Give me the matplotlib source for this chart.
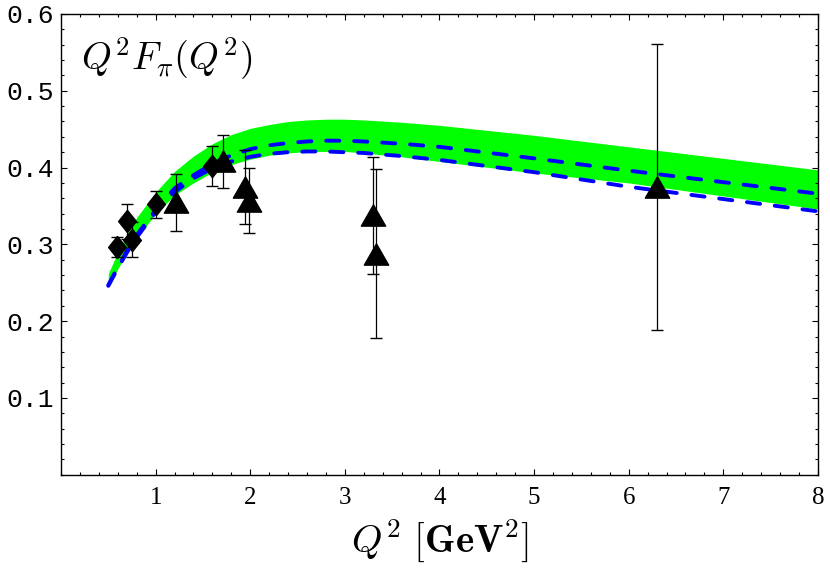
import matplotlib
matplotlib.use("Agg")
import matplotlib.pyplot as plt
from matplotlib.ticker import MultipleLocator, FixedLocator

# theory band (green)
band_q2 = [0.5, 0.6, 0.7, 0.8, 1.0, 1.2, 1.4, 1.6, 1.8, 2.0, 2.2, 2.4, 2.6, 2.8, 3.0,
           3.2, 3.6, 4.0, 5.0, 6.0, 7.0, 8.0]
band_upper = [0.262, 0.290, 0.314, 0.335, 0.368, 0.395, 0.415, 0.431, 0.443, 0.451,
              0.456, 0.460, 0.462, 0.463, 0.463, 0.462, 0.459, 0.455, 0.442, 0.427,
              0.412, 0.397]
band_lower = [0.245, 0.268, 0.290, 0.308, 0.340, 0.364, 0.380, 0.394, 0.404, 0.411,
              0.416, 0.419, 0.421, 0.421, 0.421, 0.419, 0.414, 0.408, 0.393, 0.380,
              0.363, 0.346]

# the two blue dashed curves
dash_upper = [0.247, 0.270, 0.292, 0.312, 0.345, 0.373, 0.390, 0.405, 0.416, 0.424,
              0.429, 0.432, 0.434, 0.435, 0.435, 0.434, 0.431, 0.427, 0.412, 0.396,
              0.381, 0.366]
dash_lower = [0.246, 0.269, 0.290, 0.309, 0.342, 0.368, 0.386, 0.399, 0.408, 0.414,
              0.418, 0.420, 0.421, 0.421, 0.420, 0.419, 0.415, 0.410, 0.394, 0.375,
              0.359, 0.343]

# data set 1 (diamonds)
diam_q2 = [0.595, 0.70, 0.747, 1.00, 1.60]
diam_f = [0.297, 0.330, 0.306, 0.352, 0.402]
diam_err = [0.013, 0.023, 0.023, 0.018, 0.026]

# data set 2 (triangles)
tri_q2 = [1.22, 1.71, 1.94, 1.99, 3.30, 3.33, 6.30]
tri_f = [0.355, 0.408, 0.375, 0.357, 0.338, 0.288, 0.375]
tri_err = [0.037, 0.034, 0.048, 0.042, 0.076, 0.110, 0.186]

# tick labels
x_ticks = [1, 2, 3, 4, 5, 6, 7, 8]
y_ticks = [0.1, 0.2, 0.3, 0.4, 0.5, 0.6]

plt.rcParams['mathtext.fontset'] = 'cm'

fig = plt.figure(figsize=(8.3, 5.75), dpi=100)
ax = fig.add_axes([0.0735, 0.1743, 0.912, 0.8014])

# green band
ax.fill_between(band_q2, band_lower, band_upper, color='#00ff00', lw=0, zorder=1)

# dashed curves
for curve in [dash_upper, dash_lower]:
    ax.plot(band_q2, curve, color='#0000ff', lw=2.8, dashes=(3.4, 3.8),
            dash_capstyle='round', zorder=2)

# markers shaped like the original ones
diamond = [(0, 1), (0.8, 0), (0, -1), (-0.8, 0), (0, 1)]
triangle = [(0, 0.875), (1, -0.875), (-1, -0.875), (0, 0.875)]

ax.errorbar(diam_q2, diam_f, yerr=diam_err, fmt='none', ecolor='black',
            elinewidth=0.9, capsize=4.3, capthick=1.0, zorder=3)
ax.errorbar(tri_q2, tri_f, yerr=tri_err, fmt='none', ecolor='black',
            elinewidth=0.9, capsize=4.3, capthick=1.0, zorder=3)
ax.plot(diam_q2, diam_f, ls='none', marker=diamond, ms=16, color='black', zorder=4)
ax.plot(tri_q2, tri_f, ls='none', marker=triangle, ms=17.5, color='black', zorder=4)

# axes
ax.set_xlim(0, 8)
ax.set_ylim(0, 0.6)
ax.xaxis.set_major_locator(FixedLocator(x_ticks))
ax.yaxis.set_major_locator(FixedLocator(y_ticks))
ax.xaxis.set_minor_locator(MultipleLocator(0.2))
ax.yaxis.set_minor_locator(MultipleLocator(0.02))
ax.set_xticklabels([str(t) for t in x_ticks], fontfamily='Liberation Serif', fontsize=18)
ax.set_yticklabels(['%.1f' % t for t in y_ticks], fontfamily='Liberation Mono', fontsize=19)
ax.tick_params(which='both', direction='in', top=True, right=True, width=0.8)
ax.tick_params(which='major', length=4.5)
ax.tick_params(which='minor', length=2.5)
ax.tick_params(axis='x', pad=9)
ax.tick_params(axis='y', pad=5)
for s in ax.spines.values():
    s.set_linewidth(1.0)

# labels
ax.text(0.026, 0.955, r'$Q^2F_\pi(Q^2)$', transform=ax.transAxes, fontsize=27.5,
        va='top')
ax.set_xlabel(r'$Q^2\ [\mathbf{GeV}^2]$', fontsize=28, labelpad=6)

fig.savefig('out.png', dpi=100)
